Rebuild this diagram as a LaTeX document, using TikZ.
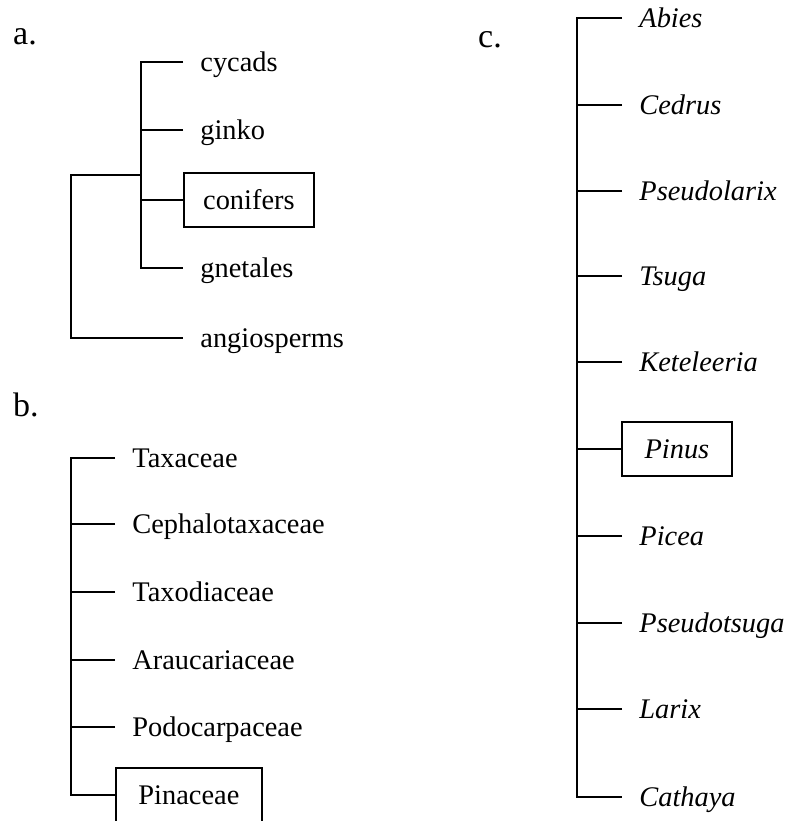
\documentclass[tikz,border=0pt]{standalone}
\usepackage{fontspec}
\setmainfont{Liberation Serif}
\usepackage{tikz}
\usetikzlibrary{positioning}

\begin{document}
\begin{tikzpicture}[
  x=0.5pt, y=-0.5pt,
  taxon/.style={anchor=west, inner xsep=8.5pt, inner ysep=0pt, text height=12pt, text depth=2.5pt, font=\fontsize{14.2}{17}\selectfont},
  genus/.style={taxon, font=\fontsize{14.2}{17}\selectfont\itshape},
  boxed/.style={draw, line width=0.9pt, minimum height=27pt},
  panel/.style={inner sep=0pt, font=\fontsize{17}{20}\selectfont},
  branch/.style={line width=1pt}
]
\useasboundingbox (0,0) rectangle (787,821);

% a. seed plants
\node[panel] (lab-a) at (25,37) {a.};
\node[taxon] (cycads) at (183,62) {cycads};
\node[taxon] (ginko) at (183,130) {ginko};
\node[taxon, boxed, minimum width=65pt] (conifers) at (183,200) {conifers};
\node[taxon] (gnetales) at (183,268) {gnetales};
\node[taxon] (angio) at (183,338) {angiosperms};
\coordinate (a-inner) at (141,175);
\coordinate (a-root) at (71,175);

\draw[branch] (cycads.west) -| (a-inner) |- (gnetales.west);
\draw[branch] (ginko.west) -- (ginko.west -| a-inner);
\draw[branch] (conifers.west) -- (conifers.west -| a-inner);
\draw[branch] (a-inner) -- (a-root) |- (angio.west);

% b. conifer families
\node[panel] (lab-b) at (26,405) {b.};
\node[taxon] (taxac) at (115,458) {Taxaceae};
\node[taxon] (cephal) at (115,524) {Cephalotaxaceae};
\node[taxon] (taxod) at (115,592) {Taxodiaceae};
\node[taxon] (arauc) at (115,660) {Araucariaceae};
\node[taxon] (podoc) at (115,727) {Podocarpaceae};
\node[taxon, boxed, minimum width=73pt] (pinac) at (115,795) {Pinaceae};
\coordinate (b-spine) at (71,620);

\draw[branch] (taxac.west) -| (b-spine) |- (pinac.west);
\foreach \fam in {cephal,taxod,arauc,podoc}
  \draw[branch] (\fam.west) -- (\fam.west -| b-spine);

% c. genera of Pinaceae
\node[panel] (lab-c) at (490,40) {c.};
\node[genus] (abies) at (622,18) {Abies};
\node[genus] (cedrus) at (622,105) {Cedrus};
\node[genus] (pseudol) at (622,191) {Pseudolarix};
\node[genus] (tsuga) at (622,276) {Tsuga};
\node[genus] (ketel) at (622,362) {Keteleeria};
\node[genus, boxed, minimum width=55pt] (pinus) at (621,449) {Pinus};
\node[genus] (picea) at (622,536) {Picea};
\node[genus] (pseudot) at (622,623) {Pseudotsuga};
\node[genus] (larix) at (622,709) {Larix};
\node[genus] (cathaya) at (622,797) {Cathaya};
\coordinate (c-spine) at (577,400);

\draw[branch] (abies.west) -| (c-spine) |- (cathaya.west);
\foreach \gen in {cedrus,pseudol,tsuga,ketel,pinus,picea,pseudot,larix}
  \draw[branch] (\gen.west) -- (\gen.west -| c-spine);
\end{tikzpicture}
\end{document}
